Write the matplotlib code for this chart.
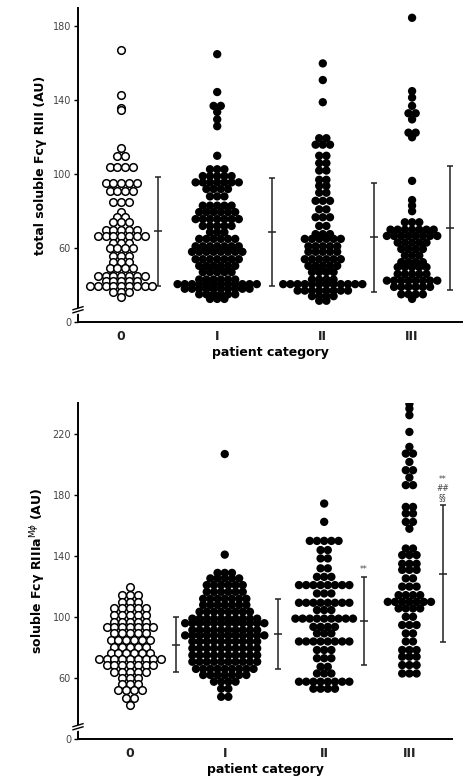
import numpy as np
import matplotlib
matplotlib.use("Agg")
import matplotlib.pyplot as plt

# ---- data (row value, number of points in that row) ----
categories = ["0", "I", "II", "III"]

# top panel: total soluble FcgRIII (AU)
top_g0_vals = [167, 143, 136, 135, 114, 110, 104, 95, 91, 85, 79.5, 77, 74, 70, 66.5, 63, 60, 56, 52.5, 49, 45, 42, 39.5, 36, 33.5]
top_g0_cnts = [1, 1, 1, 1, 1, 2, 4, 5, 4, 3, 1, 2, 3, 5, 7, 3, 4, 3, 3, 4, 7, 5, 9, 3, 1]
top_g1_vals = [165, 144.5, 137, 133.7, 129.7, 126, 110, 102.7, 99, 95.6, 92, 88, 83, 79.5, 75.7, 72, 68.6, 65, 61, 58, 54, 50.4, 47, 43, 40.5, 38, 35, 32.5]
top_g1_cnts = [1, 1, 2, 1, 1, 1, 1, 3, 5, 7, 4, 3, 5, 6, 7, 5, 3, 6, 7, 8, 7, 6, 5, 6, 12, 10, 6, 3]
top_g2_vals = [160, 151, 139, 119.5, 116, 110, 106, 102, 97, 93.7, 90, 85.6, 81, 76.7, 72, 67.6, 65, 61, 58, 54, 50.4, 47, 43, 40.5, 37, 34, 31.5]
top_g2_cnts = [1, 1, 1, 2, 3, 2, 2, 2, 2, 2, 2, 3, 2, 3, 2, 3, 6, 5, 5, 6, 5, 4, 4, 12, 8, 4, 2]
top_g3_vals = [184.7, 145, 141.5, 137, 133, 129.7, 122.5, 120, 96.4, 86, 83, 80, 74, 70, 66.6, 63, 59.5, 56, 52.4, 49.7, 46, 42.4, 39, 35, 32.5]
top_g3_cnts = [1, 1, 1, 1, 2, 1, 2, 1, 1, 1, 1, 1, 3, 7, 8, 5, 4, 3, 4, 5, 5, 8, 6, 4, 1]
top_mean = [69, 68.6, 66, 71]
top_sd = [29.5, 29.3, 29.5, 33.6]

# bottom panel: soluble FcgRIIIa (Mphi) (AU)
bot_g0_vals = [119.5, 114.4, 110, 105.7, 101.3, 97, 93.6, 89.3, 85, 80.5, 76.6, 72.5, 68.5, 64, 60, 56, 52, 46.7, 42.3]
bot_g0_cnts = [1, 3, 3, 5, 5, 5, 7, 5, 6, 5, 6, 9, 7, 5, 3, 3, 4, 2, 1]
bot_g1_vals = [207, 141, 129, 125.4, 121, 116.6, 112, 108, 103.5, 99, 96, 91.5, 88, 84, 79.5, 75, 70.7, 66, 62, 57.6, 53, 47.7]
bot_g1_cnts = [1, 1, 3, 5, 6, 6, 7, 7, 8, 10, 12, 10, 12, 10, 10, 10, 10, 9, 7, 4, 2, 2]
bot_g2_vals = [174.5, 162.5, 150, 144, 138.5, 132, 126.4, 121, 115.5, 109.4, 104.6, 99, 93.6, 89.3, 84, 78.4, 73, 67.4, 63, 57.6, 53]
bot_g2_cnts = [1, 1, 5, 2, 2, 2, 3, 8, 3, 8, 3, 9, 4, 3, 8, 3, 3, 2, 3, 8, 4]
bot_g3_vals = [240, 236.8, 232.5, 221.5, 211.7, 207.3, 201.8, 196.4, 191.6, 186.6, 172.3, 168, 162.5, 158, 145, 140.7, 135, 131, 125.4, 120, 114.4, 110, 105.7, 100.2, 94.8, 89.3, 84, 78.4, 74, 68.5, 63]
bot_g3_cnts = [1, 1, 1, 1, 1, 2, 1, 2, 1, 2, 2, 2, 2, 1, 2, 3, 3, 3, 2, 3, 4, 7, 4, 2, 3, 2, 2, 3, 3, 3, 3]
bot_mean = [82, 89, 97.6, 128.6]
bot_sd = [18, 23, 29, 44.7]
bot_marks = ["", "", "**", "**\n##\n§§"]

W, H, DPI = 4.67, 7.82, 100


def row_offsets(cnts, step_px, px_x):
    # spread the points of one row side by side, centred on the category
    out = []
    for n in cnts:
        out += [(i - (n - 1) / 2) * step_px / px_x for i in range(n)]
    return np.array(out)


def panel(rect, xlim, ylim, positions, groups, means, sds, err_dx, yticks, ylabel, marks=None):
    ax = fig.add_axes(rect)
    ax.set_xlim(*xlim)
    ax.set_ylim(*ylim)
    px_x = rect[2] * W * DPI / (xlim[1] - xlim[0])
    px_y = rect[3] * H * DPI / (ylim[1] - ylim[0])
    for k, (vals, cnts) in enumerate(groups):
        v = np.repeat(vals, cnts)
        if k == 0:
            x = positions[k] + row_offsets(cnts, 7.8, px_x)
            ax.scatter(x, v, s=30, facecolor="white", edgecolor="black", linewidth=1.1, zorder=3)
        else:
            x = positions[k] + row_offsets(cnts, 7.2, px_x)
            ax.scatter(x, v, s=36, facecolor="black", edgecolor="none", zorder=3)
        ex = positions[k] + err_dx[k]
        ax.errorbar(ex, means[k], yerr=sds[k], fmt="_", color="#222222", ms=6,
                    elinewidth=1.1, capsize=2.5, capthick=1.1, mew=1.1)
        if marks and marks[k]:
            ax.text(ex, means[k] + sds[k] + 2, marks[k], ha="center", va="bottom",
                    fontsize=5.5, color="#444444", linespacing=1.0)
    ax.spines["top"].set_visible(False)
    ax.spines["right"].set_visible(False)
    ax.spines["left"].set_linewidth(1.4)
    ax.spines["bottom"].set_linewidth(1.4)
    ax.set_yticks(yticks)
    ax.set_yticklabels(["0"] + [str(t) for t in yticks[1:]], fontsize=7, color="#444444")
    ax.tick_params(axis="y", length=3, width=1, pad=2)
    ax.set_xticks(positions)
    ax.set_xticklabels(categories, fontsize=9, fontweight="bold", color="#222222")
    ax.tick_params(axis="x", length=0, pad=6)
    ax.set_xlabel("patient category", fontsize=9, fontweight="bold", labelpad=2)
    ax.set_ylabel(ylabel, fontsize=9, fontweight="bold", labelpad=4)
    # axis break marks on the y spine
    yb = ylim[0] + 12 / px_y
    fx = 5 / (rect[2] * W * DPI)
    tr = ax.get_yaxis_transform()
    ax.plot([-fx, fx], [yb - 2.5 / px_y, yb + 0.5 / px_y], color="white", lw=4, transform=tr, clip_on=False, zorder=5)
    for d in (-1.3, 1.8):
        ax.plot([-fx, fx], [yb + (d - 1.5) / px_y, yb + (d + 1.5) / px_y], color="black", lw=1,
                transform=tr, clip_on=False, zorder=6)
    return ax


fig = plt.figure(figsize=(W, H), dpi=DPI)

top_groups = [(top_g0_vals, top_g0_cnts), (top_g1_vals, top_g1_cnts),
              (top_g2_vals, top_g2_cnts), (top_g3_vals, top_g3_cnts)]
panel([78 / 467, 1 - 322 / 782, 384 / 467, 314 / 782], (-0.45, 3.55), (20, 190),
      [0, 1, 2.1, 3.03], top_groups, top_mean, top_sd, [0.385, 0.57, 0.53, 0.40],
      [20, 60, 100, 140, 180], "total soluble Fc\u03b3 RIII (AU)")

bot_groups = [(bot_g0_vals, bot_g0_cnts), (bot_g1_vals, bot_g1_cnts),
              (bot_g2_vals, bot_g2_cnts), (bot_g3_vals, bot_g3_cnts)]
panel([78 / 467, 1 - 739 / 782, 374 / 467, 336 / 782], (-0.55, 3.4), (20, 240.5),
      [0, 1, 2.05, 2.95], bot_groups, bot_mean, bot_sd, [0.49, 0.56, 0.42, 0.35],
      [20, 60, 100, 140, 180, 220], "soluble Fc\u03b3 RIIIa$^{\\mathrm{M}\\phi}$ (AU)", bot_marks)

fig.savefig("out.png", dpi=DPI)
